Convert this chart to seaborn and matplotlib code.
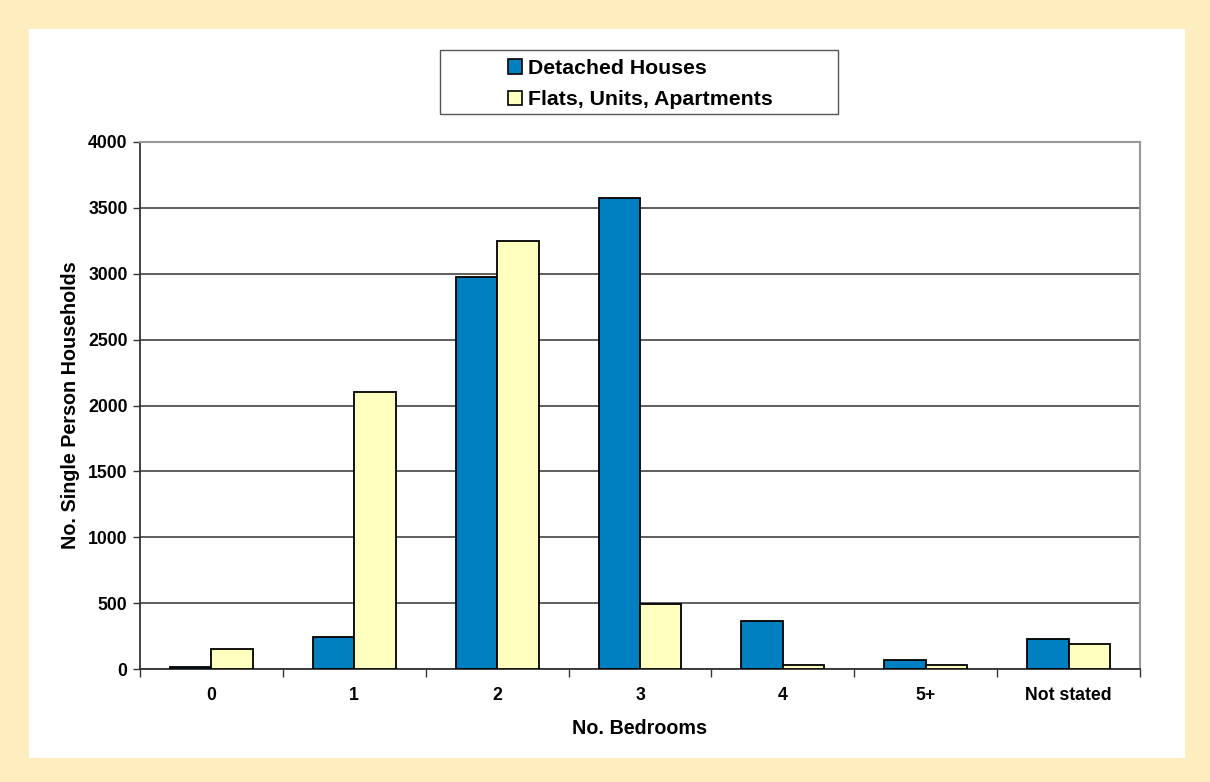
import pandas as pd
import seaborn as sns
import matplotlib.pyplot as plt
from matplotlib.patches import Rectangle

bedrooms = ['0', '1', '2', '3', '4', '5+', 'Not stated']
detached = [15, 245, 2975, 3575, 362, 66, 230]
flats = [150, 2100, 3250, 493, 28, 28, 190]
series = ['Detached Houses', 'Flats, Units, Apartments']
colors = ['#0080C0', '#FFFFC0']

df = pd.DataFrame({
    'bedrooms': bedrooms * 2,
    'households': detached + flats,
    'type': [series[0]] * len(bedrooms) + [series[1]] * len(bedrooms),
})

sns.set_style('white')
plt.rcParams['font.family'] = ['Liberation Sans', 'DejaVu Sans']
plt.rcParams['font.weight'] = 'bold'
plt.rcParams['text.color'] = 'black'
plt.rcParams['xtick.color'] = 'black'
plt.rcParams['ytick.color'] = 'black'
plt.rcParams['axes.labelcolor'] = 'black'

fig = plt.figure(figsize=(12.1, 7.82), dpi=100)
fig.patch.set_facecolor('#FDEDBF')
# white inner panel
fig.patches.append(Rectangle((29 / 1210, 1 - 758 / 782), (1185 - 29) / 1210, (758 - 29) / 782,
                             transform=fig.transFigure, facecolor='white', edgecolor='none', zorder=0))

ax = fig.add_axes([140 / 1210, 1 - 669 / 782, 1000 / 1210, 527 / 782])
ax.set_zorder(2)
ax.set_facecolor('white')
sns.barplot(data=df, x='bedrooms', y='households', hue='type', order=bedrooms,
            palette=colors, width=0.58, saturation=1, edgecolor='black',
            linewidth=1.3, ax=ax, zorder=3)
ax.legend_.remove()

ax.set_ylim(0, 4000)
ax.set_xlim(-0.5, 6.5)
ax.set_yticks(range(0, 4001, 500))
ax.yaxis.grid(True, color='#333333', linewidth=1.1, zorder=0)
ax.set_axisbelow(True)
ax.tick_params(axis='y', length=5, width=1, color='#333333', labelsize=12.7, pad=4, left=True)
ax.set_xticks(range(len(bedrooms)))
ax.set_xticklabels(bedrooms)
ax.tick_params(axis='x', which='major', length=0, labelsize=12.7, pad=13)
ax.set_xticks([i - 0.5 for i in range(len(bedrooms) + 1)], minor=True)
ax.tick_params(axis='x', which='minor', length=6, width=1, color='#333333', bottom=True)
for lab in ax.get_xticklabels() + ax.get_yticklabels():
    lab.set_fontweight('bold')

for side in ['left', 'bottom']:
    ax.spines[side].set_color('#333333')
    ax.spines[side].set_linewidth(1.3)
for side in ['top', 'right']:
    ax.spines[side].set_visible(True)
    ax.spines[side].set_color('#999999')
    ax.spines[side].set_linewidth(1.5)

ax.set_xlabel('No. Bedrooms', fontsize=14.2, fontweight='bold', labelpad=11)
ax.set_ylabel('No. Single Person Households', fontsize=14.2, fontweight='bold', labelpad=6)

# legend box
fig.patches.append(Rectangle((440 / 1210, 1 - 114 / 782), 398 / 1210, 64 / 782,
                             transform=fig.transFigure, facecolor='white', edgecolor='#555555',
                             linewidth=1, zorder=1))
handles = [Rectangle((0, 0), 1, 1, facecolor=c, edgecolor='black', linewidth=1.2) for c in colors]
leg = fig.legend(handles, series, loc='center', bbox_to_anchor=(640 / 1210, 1 - 84 / 782),
                 frameon=False, prop={'size': 15.3, 'weight': 'bold'}, handlelength=0.7,
                 handleheight=0.7, handletextpad=0.25, labelspacing=0.6)
leg.set_zorder(5)

fig.savefig('out.png', dpi=100, facecolor=fig.get_facecolor())
